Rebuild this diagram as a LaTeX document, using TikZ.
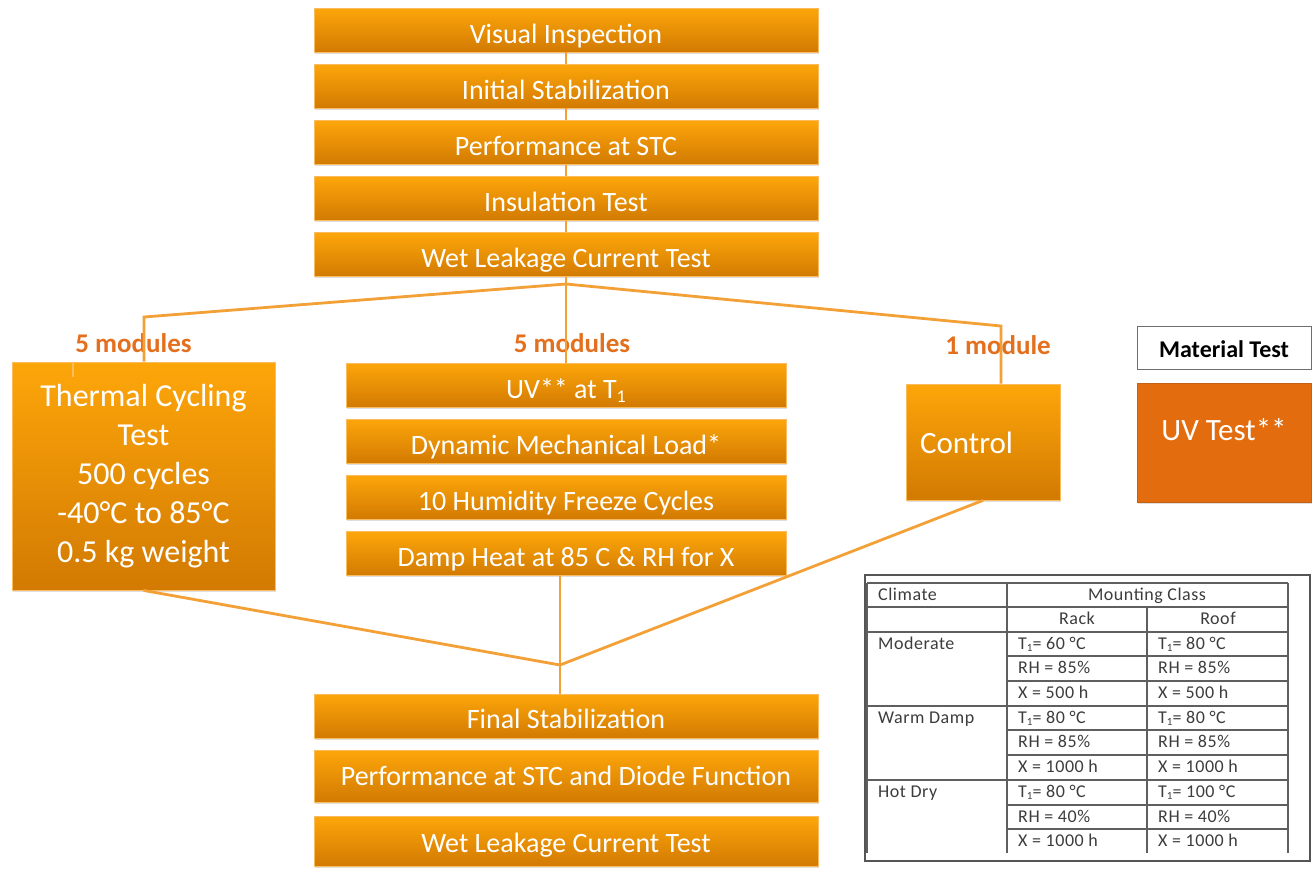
\documentclass[tikz,border=0pt]{standalone}
\usepackage{fontspec}
\setmainfont{Carlito}
\newfontfamily\tabfont[LetterSpace=3]{Carlito}
\usetikzlibrary{shadows}
\definecolor{obarTop}{RGB}{253,166,10}
\definecolor{obarBot}{RGB}{210,122,2}
\definecolor{oedge}{RGB}{250,188,95}
\definecolor{oline}{RGB}{243,160,55}
\definecolor{olabel}{RGB}{226,112,30}
\definecolor{uvfill}{RGB}{226,108,14}
\definecolor{uvedge}{RGB}{196,98,20}
\definecolor{tabtext}{RGB}{60,60,60}
\definecolor{tabline}{RGB}{95,95,95}
\newcommand{\subone}{\raisebox{-4pt}{\fontsize{18}{18}\selectfont 1}}
\newcommand{\tsub}{\raisebox{-2.5pt}{\fontsize{11}{11}\selectfont 1}}
\begin{document}
\begin{tikzpicture}[x=1pt,y=-1pt,
  obox/.style={top color=obarTop, bottom color=obarBot, draw=oedge, line width=0.8pt,
    inner sep=0pt, text=white,
    drop shadow={shadow xshift=1pt,shadow yshift=-1.5pt,opacity=0.25}},
  bar/.style={obox, font=\fontsize{28}{33}\selectfont, text height=35pt, text depth=9pt,
    minimum width=504pt},
  mbar/.style={bar, minimum width=440pt},
  conn/.style={draw=oline, line width=2.8pt},
  lab/.style={text=olabel, font=\bfseries\fontsize{27}{32}\selectfont, inner sep=0pt, anchor=base},
  tline/.style={draw=tabline, line width=1.1pt},
  tabtxt/.style={text=tabtext, font=\tabfont\fontsize{18}{20}\selectfont, inner sep=0pt}
]
\useasboundingbox (0,0) rectangle (1313,870);

% top chain
\node[bar] (v1) at (566,30) {Visual Inspection};
\node[bar] (v2) at (566,86) {Initial Stabilization};
\node[bar] (v3) at (566,142.5) {Performance at STC};
\node[bar] (v4) at (566,198.5) {Insulation Test};
\node[bar] (v5) at (566,254.5) {Wet Leakage Current Test};

% middle chain
\node[mbar] (m1) at (566,385) {UV** at T\subone};
\node[mbar] (m2) at (566,441) {Dynamic Mechanical Load*};
\node[mbar] (m3) at (566,497) {10 Humidity Freeze Cycles};
\node[mbar] (m4) at (566,553.5) {Damp Heat at 85 C \& RH for X};

% left box
\node[obox, minimum width=263pt, minimum height=228pt, align=center,
  font=\fontsize{32}{39}\selectfont] (tc) at (143.5,476)
  {Thermal Cycling\\Test\\500 cycles\\-40°C to 85°C\\0.5 kg weight};

% control
\node[obox, minimum height=116pt, text width=126pt, inner xsep=14pt, align=left,
  font=\fontsize{31}{37}\selectfont, text height=69pt, text depth=47pt] (ctl) at (983,442) {Control};

% material test
\node[draw={rgb,255:red,110;green,110;blue,110}, line width=1pt, fill=white, minimum width=174pt,
  inner sep=0pt, font=\bfseries\fontsize{24}{29}\selectfont, text height=31pt, text depth=12pt]
  (mt) at (1224,347.5) {Material Test};
\node[fill=uvfill, draw=uvedge, line width=0.8pt, minimum width=174pt, inner sep=0pt, text=white,
  font=\fontsize{31}{37}\selectfont, text height=57pt, text depth=62pt,
  drop shadow={shadow xshift=1pt,shadow yshift=-1.5pt,opacity=0.25}] (uv) at (1224,442.5) {UV Test**};

% bottom chain
\node[bar, text height=34pt, text depth=10pt] (f1) at (566,716) {Final Stabilization};
\node[bar, text height=35pt, text depth=17pt] (f2) at (566,776) {Performance at STC and Diode Function};
\node[bar, text height=36pt, text depth=14pt] (f3) at (566,841) {Wet Leakage Current Test};

% labels
\node[lab] (l1) at (133.5,352) {5 modules};
\node[lab] (l2) at (572,352) {5 modules};
\node[lab] (l3) at (998,354) {1 module};

% connectors
\draw[conn] (v1) -- (v2);
\draw[conn] (v2) -- (v3);
\draw[conn] (v3) -- (v4);
\draw[conn] (v4) -- (v5);
\coordinate (bj) at (566,284);
\coordinate (lc) at (144,317);
\coordinate (rc) at (1001,326);
\coordinate (tk) at (73,377);
\coordinate (J) at (560,665);
\draw[conn] (v5.south) -- (m1.north);
\draw[conn] (bj) -- (lc) -- (lc |- tc.north);
\draw[conn] (bj) -- (rc) -- (rc |- ctl.north);
\draw[draw=oedge, line width=2pt] (tk |- tc.north) -- (tk);
\draw[conn] (tc.south) -- (J);
\draw[conn] (ctl.south) -- (J);
\draw[conn] ([xshift=-6pt]m4.south) -- ([xshift=-6pt]f1.north);

% table
\draw[draw={rgb,255:red,85;green,85;blue,85}, line width=1.3pt] (865,575) rectangle (1310,861);
\foreach \yy in {583,607,632,706,780}
  \draw[tline] (867,\yy) -- (1288,\yy);
\foreach \yy in {656,681,730,755,805,829}
  \draw[tline] (1007,\yy) -- (1288,\yy);
\draw[tline] (867,583) -- (867,853);
\draw[tline] (1007,583) -- (1007,853);
\draw[tline] (1147,607) -- (1147,853);
\draw[tline] (1288,583) -- (1288,853);

\node[tabtxt, anchor=base west] (hclim) at (878,600) {Climate};
\node[tabtxt, anchor=base] (hmount) at (1147,600) {Mounting Class};
\node[tabtxt, anchor=base] (hrack) at (1077,624) {Rack};
\node[tabtxt, anchor=base] (hroof) at (1218,624) {Roof};
\foreach \yy/\ca/\cb/\cc in {
  649/Moderate/T\tsub= 60 °C/T\tsub= 80 °C,
  673//RH = 85\%/RH = 85\%,
  698//X = 500 h/X = 500 h,
  723/Warm Damp/T\tsub= 80 °C/T\tsub= 80 °C,
  747//RH = 85\%/RH = 85\%,
  772//X = 1000 h/X = 1000 h,
  797/Hot Dry/T\tsub= 80 °C/T\tsub= 100 °C,
  822//RH = 40\%/RH = 40\%,
  846//X = 1000 h/X = 1000 h}{
  \node[tabtxt, anchor=base west] (cA\yy) at (878,\yy) {\ca};
  \node[tabtxt, anchor=base west] (cB\yy) at (1018,\yy) {\cb};
  \node[tabtxt, anchor=base west] (cC\yy) at (1158,\yy) {\cc};
}
\end{tikzpicture}
\end{document}
